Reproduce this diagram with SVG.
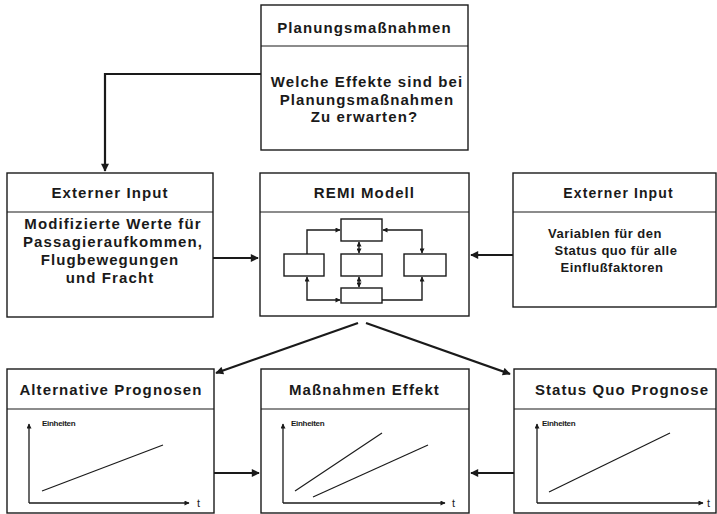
<svg xmlns="http://www.w3.org/2000/svg" width="717" height="514" viewBox="0 0 717 514">
<defs>
<style>
.box{fill:#fff;stroke:#1a1a1a;stroke-width:1.4}
.div{stroke:#1a1a1a;stroke-width:1.2}
.t{font-family:"Liberation Sans",Arial,sans-serif;font-weight:bold;font-size:15px;letter-spacing:1.1px;fill:#1a1a1a;text-anchor:middle}
.r{font-size:13px;letter-spacing:0.5px}
.rt{font-size:14px;letter-spacing:1.1px}
.s{font-family:"Liberation Sans",Arial,sans-serif;font-weight:bold;font-size:8px;letter-spacing:-0.3px;fill:#1a1a1a}
.tt{font-family:"Liberation Sans",Arial,sans-serif;font-size:11px;fill:#1a1a1a}
.c{fill:none;stroke:#1a1a1a;stroke-width:2.2}
.ci{fill:none;stroke:#1a1a1a;stroke-width:1.4}
.ax{fill:none;stroke:#1a1a1a;stroke-width:1.3}
.ln{fill:none;stroke:#1a1a1a;stroke-width:1.2}
</style>
<marker id="a" viewBox="0 0 10 10" refX="9" refY="5" markerWidth="9" markerHeight="8" markerUnits="userSpaceOnUse" orient="auto"><path d="M0,0 L10,5 L0,10 z" fill="#1a1a1a"/></marker>
<marker id="as" viewBox="0 0 10 10" refX="9" refY="5" markerWidth="6" markerHeight="5" markerUnits="userSpaceOnUse" orient="auto"><path d="M0,0 L10,5 L0,10 z" fill="#1a1a1a"/></marker>
<marker id="ss" viewBox="0 0 10 10" refX="1" refY="5" markerWidth="6" markerHeight="5" markerUnits="userSpaceOnUse" orient="auto"><path d="M10,0 L0,5 L10,10 z" fill="#1a1a1a"/></marker>
</defs>
<rect width="717" height="514" fill="#fff"/>

<g id="planung">
<rect class="box" x="261" y="5" width="207" height="145"/>
<line class="div" x1="261" y1="46" x2="468" y2="46"/>
<text class="t" x="364.5" y="33">Planungsmaßnahmen</text>
<text class="t" x="367" y="87" letter-spacing="0.8">Welche Effekte sind bei</text>
<text class="t" x="367" y="105">Planungsmaßnahmen</text>
<text class="t" x="364.5" y="122">Zu erwarten?</text>
</g>

<g id="extern-links">
<rect class="box" x="7" y="173" width="206" height="144"/>
<line class="div" x1="7" y1="212" x2="213" y2="212"/>
<text class="t" x="110" y="198">Externer Input</text>
<text class="t" x="113" y="229">Modifizierte Werte für</text>
<text class="t" x="113" y="247">Passagieraufkommen,</text>
<text class="t" x="110" y="265">Flugbewegungen</text>
<text class="t" x="110" y="283">und Fracht</text>
</g>

<g id="remi">
<rect class="box" x="260" y="173" width="209" height="143"/>
<line class="div" x1="260" y1="212" x2="469" y2="212"/>
<text class="t" x="364.5" y="198">REMI Modell</text>
<rect class="box" x="341" y="219" width="41" height="22"/>
<rect class="box" x="284" y="254" width="40" height="22"/>
<rect class="box" x="341" y="254" width="41" height="22"/>
<rect class="box" x="404" y="254" width="42" height="22"/>
<rect class="box" x="341" y="288" width="41" height="15"/>
<path class="ci" d="M307,254 V230 H340" marker-end="url(#as)"/>
<path class="ci" d="M383,230 H422 V253" marker-start="url(#ss)" marker-end="url(#as)"/>
<path class="ci" d="M359,242 V253" marker-start="url(#ss)" marker-end="url(#as)"/>
<path class="ci" d="M359,277 V287" marker-start="url(#ss)" marker-end="url(#as)"/>
<path class="ci" d="M340,300 H307 V277" marker-start="url(#ss)" marker-end="url(#as)"/>
<path class="ci" d="M382,300 H422 V277" marker-end="url(#as)"/>
</g>

<g id="extern-rechts">
<rect class="box" x="513" y="173" width="203" height="134"/>
<line class="div" x1="513" y1="212" x2="716" y2="212"/>
<text class="t rt" x="618.5" y="198">Externer Input</text>
<text class="t r" x="605" y="238">Variablen für den</text>
<text class="t r" x="616" y="255">Status quo für alle</text>
<text class="t r" x="612" y="272">Einflußfaktoren</text>
</g>

<g id="alternative">
<rect class="box" x="7" y="369" width="207" height="144"/>
<line class="div" x1="7" y1="409" x2="214" y2="409"/>
<text class="t" x="111" y="395">Alternative Prognosen</text>
<path class="ax" d="M29,503 H189" marker-end="url(#as)"/>
<path class="ax" d="M29,503 V424" marker-end="url(#as)"/>
<text class="s" x="42" y="426">Einheiten</text>
<text class="tt" x="197" y="507">t</text>
<line class="ln" x1="42" y1="491" x2="163" y2="445"/>
</g>

<g id="effekt">
<rect class="box" x="261" y="369" width="208" height="144"/>
<line class="div" x1="261" y1="409" x2="469" y2="409"/>
<text class="t" x="364.5" y="395">Maßnahmen Effekt</text>
<path class="ax" d="M283,503 H445" marker-end="url(#as)"/>
<path class="ax" d="M283,503 V424" marker-end="url(#as)"/>
<text class="s" x="291" y="426">Einheiten</text>
<text class="tt" x="452" y="507">t</text>
<line class="ln" x1="295" y1="491" x2="382" y2="433"/>
<line class="ln" x1="313" y1="497" x2="428" y2="445"/>
</g>

<g id="statusquo">
<rect class="box" x="514" y="369" width="202" height="144"/>
<line class="div" x1="514" y1="409" x2="716" y2="409"/>
<text class="t" x="622" y="395">Status Quo Prognose</text>
<path class="ax" d="M537,503 H703" marker-end="url(#as)"/>
<path class="ax" d="M537,503 V424" marker-end="url(#as)"/>
<text class="s" x="542" y="426">Einheiten</text>
<text class="tt" x="707" y="507">t</text>
<line class="ln" x1="549" y1="492" x2="670" y2="433"/>
</g>

<g id="connectors">
<path class="c" d="M261,74 H105 V171" marker-end="url(#a)"/>
<path class="c" d="M213,258 H258" marker-end="url(#a)"/>
<path class="c" d="M513,255 H471" marker-end="url(#a)"/>
<path class="c" d="M358,323 L216,373" marker-end="url(#a)"/>
<path class="c" d="M366,323 L510,374" marker-end="url(#a)"/>
<path class="c" d="M214,473 H259" marker-end="url(#a)"/>
<path class="c" d="M514,473 H471" marker-end="url(#a)"/>
</g>
</svg>
